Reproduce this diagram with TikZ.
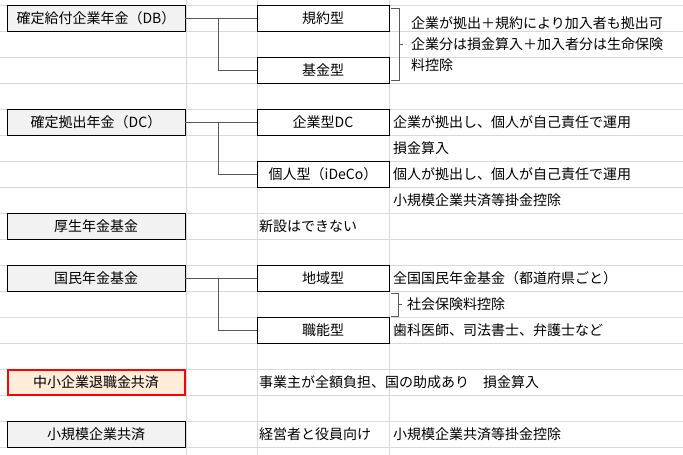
\documentclass[tikz,border=0pt]{standalone}
\usepackage{fontspec}
\setmainfont{Noto Sans CJK JP}
\begin{document}
\begin{tikzpicture}[x=1pt,y=-1pt,
  every node/.style={font=\fontsize{14}{15}\selectfont, inner sep=0pt},
  grid/.style={draw=black!15, line width=0.8pt},
  mainbox/.style={draw=black, fill=black!5, line width=0.8pt, minimum width=178pt, minimum height=26pt},
  redbox/.style={draw=red, fill=orange!15, line width=2pt, minimum width=177pt, minimum height=25pt},
  subbox/.style={draw=black, fill=white, line width=0.8pt, minimum width=132pt, minimum height=26pt},
  txt/.style={anchor=west},
  conn/.style={draw=black!65, line width=0.8pt}]
\useasboundingbox (0,0) rectangle (683,455);
\fill[white] (0,0) rectangle (683,455);
\foreach \k in {0,...,17} \draw[grid] (0,5+26*\k) -- (683,5+26*\k);
\foreach \xx in {186,257,389} \draw[grid] (\xx,0) -- (\xx,455);
% left boxes
\node[mainbox] (db) at (96,18) {確定給付企業年金（DB）};
\node[mainbox] (dc) at (96,122) {確定拠出年金（DC）};
\node[mainbox] (ks) at (96,226) {厚生年金基金};
\node[mainbox] (kn) at (96,278) {国民年金基金};
\node[redbox] (cs) at (96,382) {中小企業退職金共済};
\node[mainbox] (sk) at (96,434) {小規模企業共済};
% sub boxes
\node[subbox] (kiyaku) at (323,18) {規約型};
\node[subbox] (kikin) at (323,70) {基金型};
\node[subbox] (kdc) at (323,122) {企業型DC};
\node[subbox] (ideco) at (323,174) {個人型（iDeCo）};
\node[subbox] (chiiki) at (323,278) {地域型};
\node[subbox] (shoku) at (323,330) {職能型};
% connectors
\coordinate (j1) at (218,18); \coordinate (j2) at (218,122); \coordinate (j3) at (218,278);
\draw[conn] (db.east) -- (kiyaku.west);
\draw[conn] (j1) |- (kikin.west);
\draw[conn] (dc.east) -- (kdc.west);
\draw[conn] (j2) |- (ideco.west);
\draw[conn] (kn.east) -- (chiiki.west);
\draw[conn] (j3) |- (shoku.west);
% brackets
\coordinate (b1t) at (391,8); \coordinate (b1b) at (391,80);
\draw[conn] (b1t) -- ++(8,0) -- ++(0,72) -- (b1b);
\coordinate (b1m) at (399,44); \draw[conn] (b1m) -- ++(4,0);
\coordinate (b2t) at (391,293); \coordinate (b2b) at (391,316);
\draw[conn] (b2t) -- ++(7,0) -- ++(0,23) -- (b2b);
\coordinate (b2m) at (398,304); \draw[conn] (b2m) -- ++(4,0);
% texts
\node[txt] (t1) at (411,23) {企業が拠出＋規約により加入者も拠出可};
\node[txt] (t2) at (411,44) {企業分は損金算入＋加入者分は生命保険};
\node[txt] (t3) at (411,65) {料控除};
\node[txt] (t4) at (393,122) {企業が拠出し、個人が自己責任で運用};
\node[txt] (t5) at (393,148) {損金算入};
\node[txt] (t6) at (393,174) {個人が拠出し、個人が自己責任で運用};
\node[txt] (t7) at (393,200) {小規模企業共済等掛金控除};
\node[txt] (t8) at (259,226) {新設はできない};
\node[txt] (t9) at (393,278) {全国国民年金基金（都道府県ごと）};
\node[txt] (t10) at (407,304) {社会保険料控除};
\node[txt] (t11) at (393,330) {歯科医師、司法書士、弁護士など};
\node[txt] (t12) at (259,382) {事業主が全額負担、国の助成あり　損金算入};
\node[txt] (t13) at (259,434) {経営者と役員向け};
\node[txt] (t14) at (393,434) {小規模企業共済等掛金控除};
\end{tikzpicture}
\end{document}
